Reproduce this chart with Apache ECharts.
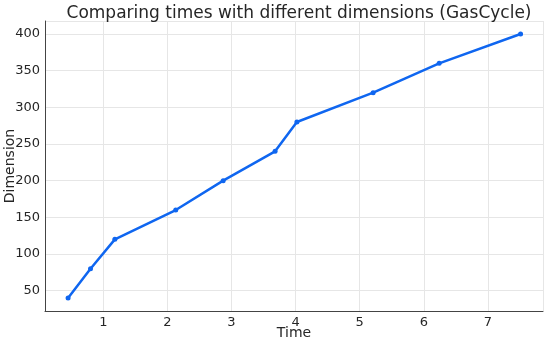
<!DOCTYPE html>
<html>
<head>
<meta charset="utf-8">
<script src="https://cdn.jsdelivr.net/npm/echarts@6/dist/echarts.min.js"></script>
<style>
  html, body { margin: 0; padding: 0; background: #fff; }
  #chart { width: 550px; height: 344px; }
</style>
</head>
<body>
<div id="chart"></div>
<script>
// data
var times = [0.45, 0.8, 1.18, 2.13, 2.87, 3.68, 4.02, 5.21, 6.24, 7.51];
var dimensions = [40, 80, 120, 160, 200, 240, 280, 320, 360, 400];

var points = times.map(function (t, i) { return [t, dimensions[i]]; });

var myChart = echarts.init(document.getElementById('chart'));

var axisFont = { fontFamily: 'DejaVu Sans', fontSize: 13, color: '#262626' };

myChart.setOption({
  animation: false,
  title: {
    text: 'Comparing times with different dimensions (GasCycle)',
    left: 294,
    textAlign: 'center',
    top: 0,
    textStyle: { fontFamily: 'DejaVu Sans', fontSize: 17, fontWeight: 'normal', color: '#262626' }
  },
  grid: { left: 45, right: 7, top: 21, bottom: 33, containLabel: false, outerBoundsMode: 'none' },
  xAxis: {
    type: 'value',
    min: 0.09,
    max: 7.86,
    splitNumber: 7,
    name: 'Time',
    nameLocation: 'middle',
    nameGap: 15,
    nameMoveOverlap: false,
    nameTextStyle: { fontFamily: 'DejaVu Sans', fontSize: 14, color: '#262626' },
    axisLine: { show: true, lineStyle: { color: '#444', width: 1 } },
    axisTick: { show: false },
    axisLabel: Object.assign({
      margin: 5,
      showMinLabel: false,
      showMaxLabel: false,
      formatter: function (v) { return Number.isInteger(v) ? String(v) : ''; }
    }, axisFont),
    splitLine: { show: true, lineStyle: { color: '#e6e6e6', width: 1 } }
  },
  yAxis: {
    type: 'value',
    min: 22.3,
    max: 417.7,
    splitNumber: 8,
    name: 'Dimension',
    nameLocation: 'middle',
    nameGap: 28,
    nameMoveOverlap: false,
    nameTextStyle: { fontFamily: 'DejaVu Sans', fontSize: 14, color: '#262626' },
    axisLine: { show: true, lineStyle: { color: '#444', width: 1 } },
    axisTick: { show: false },
    axisLabel: Object.assign({
      margin: 5,
      showMinLabel: false,
      showMaxLabel: false,
      formatter: function (v) { return v % 50 === 0 ? String(v) : ''; }
    }, axisFont),
    splitLine: { show: true, lineStyle: { color: '#e6e6e6', width: 1 } }
  },
  series: [
    {
      type: 'line',
      data: points,
      symbol: 'circle',
      symbolSize: 5,
      lineStyle: { color: '#0f66f0', width: 2.5 },
      itemStyle: { color: '#0f66f0' }
    }
  ]
});
</script>
</body>
</html>
